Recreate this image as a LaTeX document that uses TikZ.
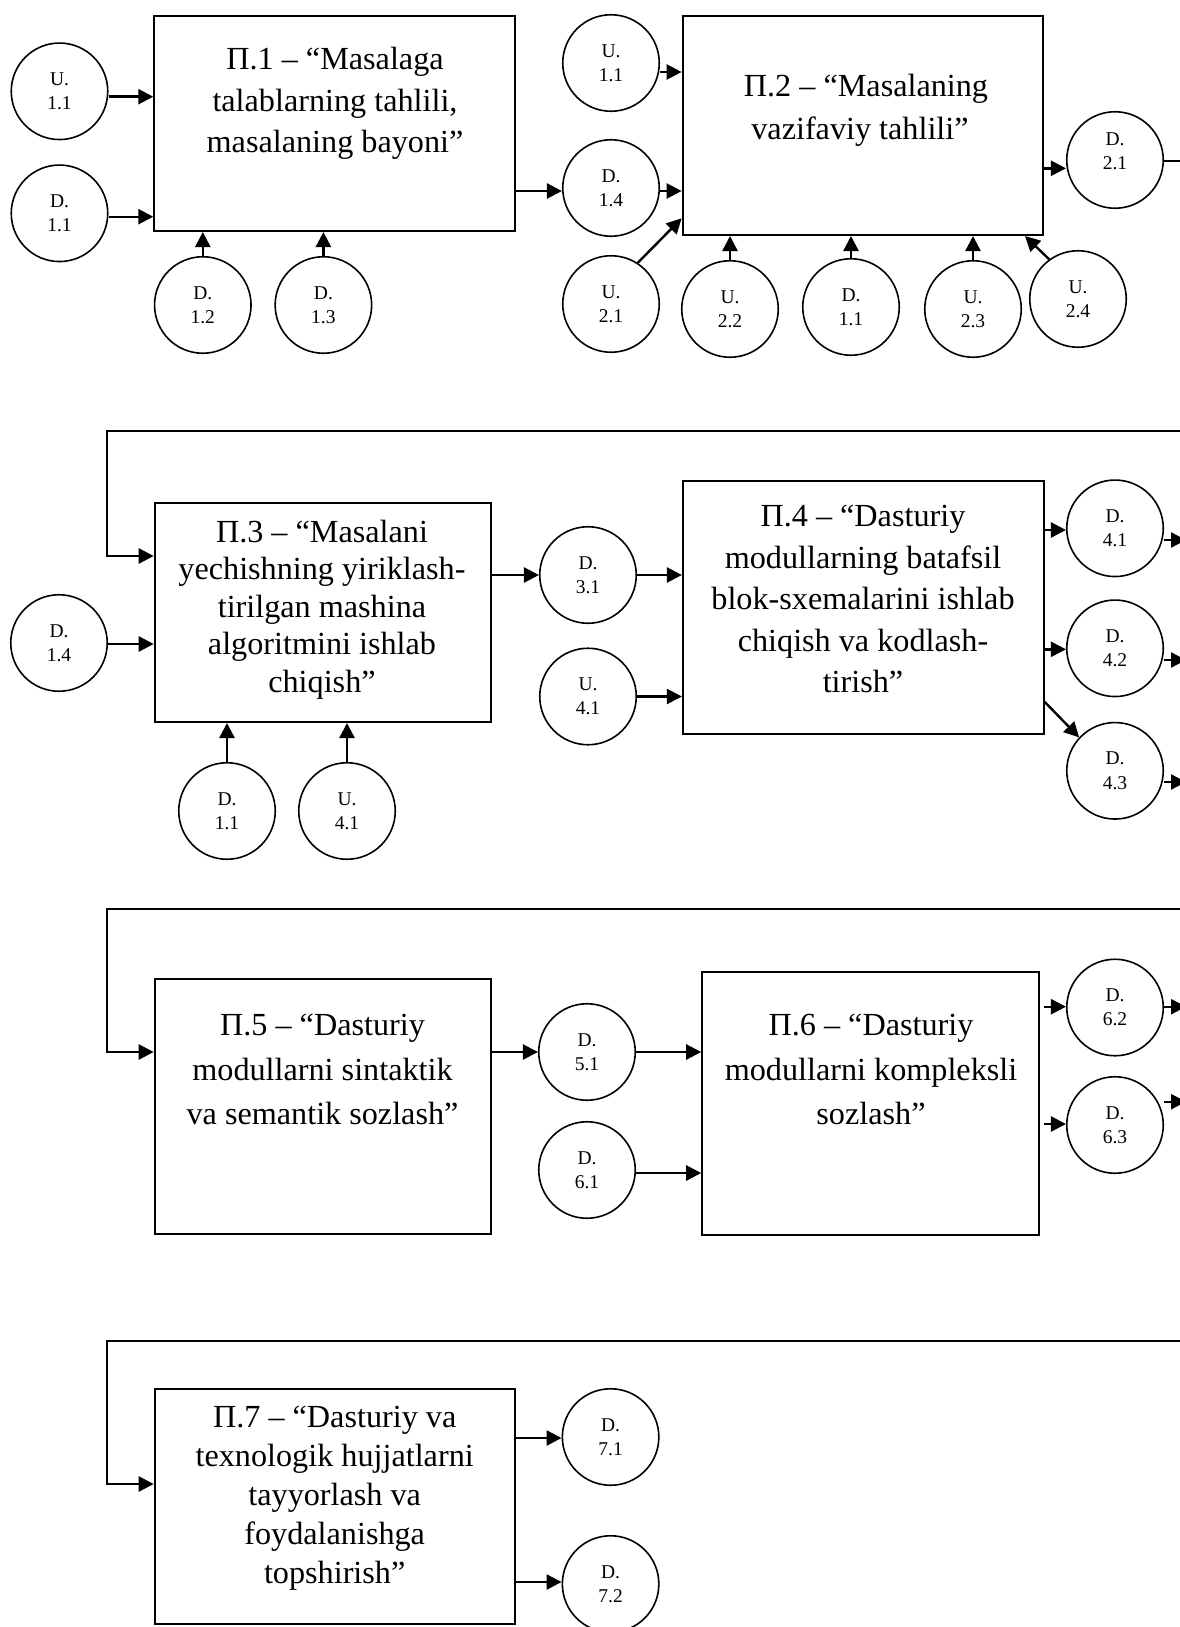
\documentclass[tikz,border=0pt]{standalone}
\usepackage{fontspec}
\setmainfont{Liberation Serif}
\usetikzlibrary{arrows.meta}
\tikzset{
  box/.style={draw, line width=2pt, inner sep=0pt},
  circ/.style={circle, draw, line width=1.6pt, minimum size=96.5pt, inner sep=0pt, align=center, font=\fontsize{19.5}{24.3}\selectfont},
  ctxt/.style={inner sep=0pt, align=center, font=\fontsize{19.5}{24.3}\selectfont},
  arr/.style={line width=2.4pt, -{Triangle[length=15pt,width=15pt]}},
  plainline/.style={line width=2.4pt},
  btxt/.style={align=center, inner sep=0pt, anchor=north},
}
\begin{document}
\begin{tikzpicture}[x=1pt,y=-1pt]
\useasboundingbox (0,0) rectangle (1179,1627);
% ---------------- Row 1 ----------------
\node[box, minimum width=360.4pt, minimum height=215pt] (p1) at (334.5,123.5) {};
\node[btxt, font=\fontsize{32.2}{41.5}\selectfont] (p1t) at (335,47) {П.1 – “Masalaga\\talablarning tahlili,\\masalaning bayoni”};
\node[box, minimum width=360.7pt, minimum height=219pt] (p2) at (863,125.5) {};
\node[btxt, font=\fontsize{32.2}{43}\selectfont] (p2t) at (860,74) {\hspace*{12pt}П.2 – “Masalaning\\vazifaviy tahlili”};

\node[circ] (u11a) at (59.5,91.3) {U.\\1.1};
\node[circ] (d11a) at (59.5,213.3) {D.\\1.1};
\node[circ] (d12) at (202.8,305) {D.\\1.2};
\node[circ] (d13) at (323.4,305) {D.\\1.3};
\node[circ] (u11b) at (611,63) {U.\\1.1};
\node[circ] (d14a) at (611,188) {D.\\1.4};
\node[circ] (u21) at (611,304) {U.\\2.1};
\node[circ] (u22) at (730,309) {U.\\2.2};
\node[circ] (d11b) at (851,307) {D.\\1.1};
\node[circ] (u23) at (973,309) {U.\\2.3};
\node[circ] (u24) at (1078,299) {U.\\2.4};
\node[circ] (d21) at (1115,160) {};
\node[ctxt] (d21t) at (1115,151) {D.\\2.1};
\coordinate (e21) at (1185,161);

\draw[arr] (u11a.east |- 0,96.7) -- (p1.west |- 0,96.7);
\draw[arr] (d11a.east |- 0,216.7) -- (p1.west |- 0,216.7);
\draw[arr] (d12.north) -- (d12.north |- p1.south);
\draw[arr] (d13.north) -- (d13.north |- p1.south);
\draw[arr] (p1.east |- 0,191) -- (d14a.west |- 0,191);
\draw[arr] (u11b.east |- 0,72) -- (p2.west |- 0,72);
\draw[arr] (d14a.east |- 0,191) -- (p2.west |- 0,191);
\draw[arr] (u21.57) -- (p2.west |- 0,218.3);
\draw[arr] (u22.north) -- (u22.north |- p2.south);
\draw[arr] (d11b.north) -- (d11b.north |- p2.south);
\draw[arr] (u23.north) -- (u23.north |- p2.south);
\draw[arr] (u24.126) -- (p2.south -| 1025,0);
\draw[arr] (p2.east |- 0,168.3) -- (d21.west |- 0,168.3);
\draw[plainline] (d21.east |- 0,161) -- (e21);

% ---------------- Row 2 ----------------
\node[box, minimum width=336.6pt, minimum height=219pt] (p3) at (323,612.5) {};
\node[btxt, font=\fontsize{32.2}{37.4}\selectfont] (p3t) at (322,520) {П.3 – “Masalani\\yechishning yiriklash-\\tirilgan mashina\\algoritmini ishlab\\chiqish”};
\node[box, minimum width=360.6pt, minimum height=253pt] (p4) at (863.2,607) {};
\node[btxt, font=\fontsize{32.2}{41.5}\selectfont] (p4t) at (863,505) {П.4 – “Dasturiy\\modullarning batafsil\\blok-sxemalarini ishlab\\chiqish va kodlash-\\tirish”};

\node[circ] (d14b) at (59,643) {D.\\1.4};
\node[circ] (d11c) at (227,811) {D.\\1.1};
\node[circ] (u41a) at (347,811) {U.\\4.1};
\node[circ] (d31) at (588,575) {D.\\3.1};
\node[circ] (u41b) at (588,696.5) {U.\\4.1};
\node[circ] (d41) at (1115,528.3) {D.\\4.1};
\node[circ] (d42) at (1115,648.3) {D.\\4.2};
\node[circ] (d43) at (1115,770.8) {D.\\4.3};
\coordinate (r2) at (1185,431);
\coordinate (k2) at (107,431);
\coordinate (o41) at (1186,540);
\coordinate (o42) at (1186,660);
\coordinate (o43) at (1186,782);

\draw[arr] (r2) -- (k2) |- (p3.west |- 0,556);
\draw[arr] (d14b.east |- 0,644) -- (p3.west |- 0,644);
\draw[arr] (d11c.north) -- (d11c.north |- p3.south);
\draw[arr] (u41a.north) -- (u41a.north |- p3.south);
\draw[arr] (p3.east |- 0,575) -- (d31.west);
\draw[arr] (d31.east) -- (d31.east -| p4.west);
\draw[arr] (u41b.east) -- (u41b.east -| p4.west);
\draw[arr] (p4.east |- 0,530) -- (d41.west |- 0,530);
\draw[arr] (p4.east |- 0,649.3) -- (d42.west |- 0,649.3);
\draw[arr] (p4.east |- 0,701.7) -- (d43.137);
\draw[arr] (d41.east |- 0,540) -- (o41);
\draw[arr] (d42.east |- 0,660) -- (o42);
\draw[arr] (d43.east |- 0,782) -- (o43);

% ---------------- Row 3 ----------------
\node[box, minimum width=336.6pt, minimum height=255pt] (p5) at (323,1106.5) {};
\node[btxt, font=\fontsize{32.2}{44.5}\selectfont] (p5t) at (322.5,1014) {П.5 – “Dasturiy\\modullarni sintaktik\\va semantik sozlash”};
\node[box, minimum width=336.8pt, minimum height=263pt] (p6) at (870.6,1103.5) {};
\node[btxt, font=\fontsize{32.2}{44.5}\selectfont] (p6t) at (871,1014) {П.6 – “Dasturiy\\modullarni kompleksli\\sozlash”};

\node[circ] (d51) at (587,1052) {D.\\5.1};
\node[circ] (d61) at (587,1170) {D.\\6.1};
\node[circ] (d62) at (1115,1007.5) {D.\\6.2};
\node[circ] (d63) at (1115,1125) {D.\\6.3};
\coordinate (r3) at (1185,909);
\coordinate (k3) at (107,909);
\coordinate (o62) at (1186,1006.7);
\coordinate (o63) at (1186,1101.7);

\draw[arr] (r3) -- (k3) |- (p5.west |- 0,1052);
\draw[arr] (p5.east |- 0,1052) -- (d51.west |- 0,1052);
\draw[arr] (d51.east |- 0,1052) -- (p6.west |- 0,1052);
\draw[arr] (d61.east |- 0,1173) -- (p6.west |- 0,1173);
\draw[arr] ([xshift=4pt]p6.east |- 0,1006.7) -- (d62.west |- 0,1006.7);
\draw[arr] ([xshift=4pt]p6.east |- 0,1124) -- (d63.west |- 0,1124);
\draw[arr] (d62.east |- 0,1006.7) -- (o62);
\draw[arr] (d63.east |- 0,1101.7) -- (o63);

% ---------------- Row 4 ----------------
\node[box, minimum width=360.3pt, minimum height=235pt] (p7) at (334.85,1506.5) {};
\node[btxt, font=\fontsize{32.2}{38.9}\selectfont] (p7t) at (334.7,1406) {П.7 – “Dasturiy va\\texnologik hujjatlarni\\tayyorlash va\\foydalanishga\\topshirish”};

\node[circ] (d71) at (610.6,1437) {D.\\7.1};
\node[circ] (d72) at (610.6,1584) {D.\\7.2};
\coordinate (r4) at (1185,1340.7);
\coordinate (k4) at (107,1340.7);

\draw[arr] (r4) -- (k4) |- (p7.west |- 0,1484);
\draw[arr] (p7.east |- 0,1438) -- (d71.west |- 0,1438);
\draw[arr] (p7.east |- 0,1582) -- (d72.west |- 0,1582);
\end{tikzpicture}
\end{document}
